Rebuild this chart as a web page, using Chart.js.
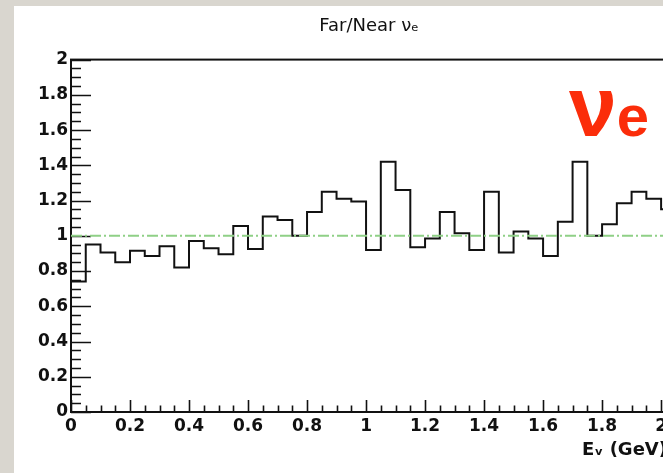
<!DOCTYPE html>
<html>
<head>
<meta charset="utf-8">
<script src="https://cdn.jsdelivr.net/npm/chart.js@4"></script>
<style>
  html, body { margin: 0; padding: 0; overflow: hidden; }
  body { width: 663px; height: 473px; background: #d9d6cf; position: relative; }
  #pad { position: absolute; left: 14px; top: 6px; width: 680px; height: 467px; background: #fff; }
  #tag { position: absolute; left: 569px; top: 65px; line-height: 82px; color: #fb2d0a;
         font-family: "Liberation Sans", Arial, sans-serif; font-weight: bold; white-space: nowrap; }
  #tag .nu { font-size: 86px; }
  #tag .sub { font-size: 58px; line-height: 0; }
</style>
</head>
<body>
<div id="pad"><canvas id="ratio" width="680" height="467"></canvas></div>
<div id="tag"><span class="nu">ν</span><span class="sub">e</span></div>
<script>
// far/near ratio per 0.05 GeV bin, starting at 0 GeV
var binWidth = 0.05;
var ratio = [
  0.74, 0.95, 0.905, 0.85, 0.915, 0.885, 0.94, 0.82, 0.97, 0.93,
  0.895, 1.055, 0.925, 1.11, 1.09, 1.0, 1.135, 1.25, 1.21, 1.195,
  0.92, 1.42, 1.26, 0.935, 0.985, 1.135, 1.015, 0.92, 1.25, 0.905,
  1.025, 0.985, 0.885, 1.08, 1.42, 1.0, 1.065, 1.185, 1.25, 1.21,
  1.15
];
var unity = 1;
var xTicks = [0, 0.2, 0.4, 0.6, 0.8, 1, 1.2, 1.4, 1.6, 1.8, 2];
var yTicks = [0, 0.2, 0.4, 0.6, 0.8, 1, 1.2, 1.4, 1.6, 1.8, 2];
var xMin = 0, xMax = 2.02, yMin = 0, yMax = 2;

// step outline: one point per bin low edge, plus the last bin's high edge
var histPoints = ratio.map(function (v, i) { return { x: i * binWidth, y: v }; });
histPoints.push({ x: ratio.length * binWidth, y: ratio[ratio.length - 1] });

var unityPoints = [{ x: xMin, y: unity }, { x: ratio.length * binWidth, y: unity }];

// ROOT-style frame with ticks pointing into the plot
var frame = {
  id: 'frame',
  beforeDatasetsDraw: function (chart) {
    var ctx = chart.ctx, a = chart.chartArea;
    var xs = chart.scales.x, ys = chart.scales.y;
    ctx.save();
    ctx.strokeStyle = '#111';
    ctx.lineWidth = 2;
    ctx.strokeRect(a.left, a.top, a.right - a.left, a.bottom - a.top);
    ctx.lineWidth = 1.6;
    ctx.beginPath();
    for (var k = 0; k <= 40; k++) {
      var v = k * 0.05;
      var py = Math.round(ys.getPixelForValue(v)) + 0.5;
      var ly = (k % 4 === 0) ? 20 : 10;
      ctx.moveTo(a.left, py);
      ctx.lineTo(a.left + ly, py);
      if (v <= xMax) {
        var px = Math.round(xs.getPixelForValue(v)) + 0.5;
        var lx = (k % 4 === 0) ? 12 : 6.5;
        ctx.moveTo(px, a.bottom);
        ctx.lineTo(px, a.bottom - lx);
      }
    }
    ctx.stroke();
    ctx.restore();
  }
};

Chart.defaults.font.family = '"DejaVu Sans", sans-serif';
Chart.defaults.color = '#111';

new Chart('ratio', {
  type: 'line',
  data: {
    datasets: [
      {
        data: unityPoints,
        borderColor: '#8fd086',
        borderWidth: 2,
        borderDash: [11, 3, 2, 3],
        pointRadius: 0
      },
      {
        data: histPoints,
        stepped: true,
        borderColor: '#111',
        borderWidth: 2,
        pointRadius: 0,
        fill: false
      }
    ]
  },
  options: {
    responsive: false,
    animation: false,
    layout: { padding: { left: 0, right: 27, top: 0, bottom: 0 } },
    plugins: {
      legend: { display: false },
      tooltip: { enabled: false },
      title: {
        display: true,
        text: 'Far/Near νₑ',
        fullSize: false,
        font: { size: 18, weight: 'normal' },
        color: '#111',
        padding: { top: 10, bottom: 22 }
      }
    },
    scales: {
      x: {
        type: 'linear',
        min: xMin,
        max: xMax,
        grid: { display: false, drawTicks: false },
        border: { display: false },
        afterBuildTicks: function (s) { s.ticks = xTicks.map(function (v) { return { value: v }; }); },
        afterFit: function (s) { s.height = 61; },
        ticks: {
          padding: 4,
          maxRotation: 0,
          font: { size: 17, weight: 'bold' },
          callback: function (v) { return String(v); }
        },
        title: {
          display: true,
          text: 'Eᵥ (GeV)',
          align: 'end',
          font: { size: 18, weight: 'bold' },
          padding: { top: 0, bottom: 12 }
        }
      },
      y: {
        type: 'linear',
        min: yMin,
        max: yMax,
        grid: { display: false, drawTicks: false },
        border: { display: false },
        afterBuildTicks: function (s) { s.ticks = yTicks.map(function (v) { return { value: v }; }); },
        afterFit: function (s) { s.width = 57; },
        ticks: {
          padding: 3,
          font: { size: 17, weight: 'bold' },
          callback: function (v) { return String(v); }
        }
      }
    }
  },
  plugins: [frame]
});
</script>
</body>
</html>
